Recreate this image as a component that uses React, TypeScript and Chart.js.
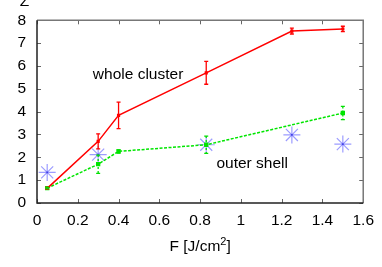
import React, { useEffect, useRef } from "react";
import { Chart, registerables } from "chart.js";

Chart.register(...registerables);

const wholeX = [0.05, 0.3, 0.4, 0.83, 1.25, 1.5];
const wholeY = [0.64, 2.7, 3.84, 5.7, 7.53, 7.62];
const wholeErr = [0.04, 0.33, 0.58, 0.5, 0.13, 0.12];

const shellX = [0.05, 0.3, 0.4, 0.83, 1.5];
const shellY = [0.65, 1.7, 2.26, 2.55, 3.94];
const shellErr = [0.03, 0.4, 0.07, 0.38, 0.29];

const starX = [0.05, 0.3, 0.83, 1.25, 1.5];
const starY = [1.34, 2.12, 2.55, 2.98, 2.58];

const xTicks = [0, 0.2, 0.4, 0.6, 0.8, 1, 1.2, 1.4, 1.6];
const yTicks = [0, 1, 2, 3, 4, 5, 6, 7, 8];

const FONT = "'Liberation Sans', Arial, sans-serif";

const pts = (xs: number[], ys: number[]) => xs.map((x, i) => ({ x, y: ys[i] }));

const overlay = {
  id: "overlay",
  afterDatasetsDraw(chart: any) {
    const { ctx, chartArea: a, scales } = chart;
    const xs = scales.x;
    const ys = scales.y;
    ctx.save();
    // error bars
    const bars = (xv: number[], yv: number[], ev: number[], color: string, dash: number[]) => {
      ctx.strokeStyle = color;
      ctx.lineWidth = 1.3;
      ctx.setLineDash(dash);
      xv.forEach((x, i) => {
        const px = xs.getPixelForValue(x);
        const t = ys.getPixelForValue(yv[i] + ev[i]);
        const b = ys.getPixelForValue(yv[i] - ev[i]);
        ctx.beginPath();
        ctx.moveTo(px, t);
        ctx.lineTo(px, b);
        ctx.stroke();
        ctx.setLineDash([]);
        ctx.beginPath();
        ctx.moveTo(px - 2, t);
        ctx.lineTo(px + 2, t);
        ctx.moveTo(px - 2, b);
        ctx.lineTo(px + 2, b);
        ctx.stroke();
        ctx.setLineDash(dash);
      });
      ctx.setLineDash([]);
    };
    bars(wholeX, wholeY, wholeErr, "#ff0000", []);
    bars(shellX, shellY, shellErr, "#00e000", [2, 2]);

    // inward ticks
    ctx.strokeStyle = "#666";
    ctx.lineWidth = 1;
    const L = 4;
    xTicks.forEach((v) => {
      const px = Math.round(xs.getPixelForValue(v)) + 0.5;
      ctx.beginPath();
      ctx.moveTo(px, a.bottom);
      ctx.lineTo(px, a.bottom - L);
      ctx.moveTo(px, a.top);
      ctx.lineTo(px, a.top + L);
      ctx.stroke();
    });
    yTicks.forEach((v) => {
      const py = Math.round(ys.getPixelForValue(v)) + 0.5;
      ctx.beginPath();
      ctx.moveTo(a.left, py);
      ctx.lineTo(a.left + L, py);
      ctx.moveTo(a.right, py);
      ctx.lineTo(a.right - L, py);
      ctx.stroke();
    });
    // frame
    ctx.lineWidth = 1.5;
    ctx.strokeStyle = "#777";
    ctx.beginPath();
    ctx.moveTo(a.left, a.top);
    ctx.lineTo(a.right, a.top);
    ctx.lineTo(a.right, a.bottom);
    ctx.stroke();
    ctx.strokeStyle = "#222";
    ctx.beginPath();
    ctx.moveTo(a.left, a.top);
    ctx.lineTo(a.left, a.bottom);
    ctx.lineTo(a.right, a.bottom);
    ctx.stroke();

    // labels
    ctx.fillStyle = "#000";
    ctx.font = `15.5px ${FONT}`;
    ctx.textBaseline = "middle";
    ctx.textAlign = "left";
    ctx.fillText("whole cluster", xs.getPixelForValue(0.274), ys.getPixelForValue(5.6));
    ctx.fillText("outer shell", xs.getPixelForValue(0.88), ys.getPixelForValue(1.74));

    // x axis title with superscript
    ctx.textBaseline = "alphabetic";
    const main1 = "F [J/cm";
    const sup = "2";
    const main2 = "]";
    ctx.font = `15.5px ${FONT}`;
    const w1 = ctx.measureText(main1).width;
    const w3 = ctx.measureText(main2).width;
    ctx.font = `11px ${FONT}`;
    const w2 = ctx.measureText(sup).width;
    const total = w1 + w2 + w3;
    const cx = (a.left + a.right) / 2;
    let x0 = cx - total / 2;
    const base = 251;
    ctx.font = `15.5px ${FONT}`;
    ctx.fillText(main1, x0, base);
    ctx.font = `11px ${FONT}`;
    ctx.fillText(sup, x0 + w1, base - 6);
    ctx.font = `15.5px ${FONT}`;
    ctx.fillText(main2, x0 + w1 + w2, base);

    // clipped y label at top
    ctx.textAlign = "center";
    ctx.fillText("Z", 24.5, 6);
    ctx.restore();
  },
};

export default function App() {
  const ref = useRef<HTMLCanvasElement>(null);
  useEffect(() => {
    document.body.style.margin = "0";
    const chart = new Chart(ref.current!, {
      type: "scatter",
      data: {
        datasets: [
          {
            data: pts(wholeX, wholeY),
            showLine: true,
            borderColor: "#ff0000",
            backgroundColor: "#ff0000",
            borderWidth: 1.5,
            pointRadius: 1.2,
            pointStyle: "rect",
          },
          {
            data: pts(shellX, shellY),
            showLine: true,
            borderColor: "#00e600",
            backgroundColor: "#00e600",
            borderWidth: 1.5,
            borderDash: [3, 1.5],
            pointRadius: 2,
            pointStyle: "rect",
          },
          {
            data: pts(starX, starY),
            showLine: false,
            borderColor: "rgba(90,90,255,0.6)",
            backgroundColor: "rgba(90,90,255,0.6)",
            borderWidth: 1.2,
            pointRadius: 8.5,
            pointStyle: "star",
          },
          {
            data: pts(starX, starY),
            showLine: false,
            borderColor: "#2020c0",
            backgroundColor: "#2020c0",
            borderWidth: 0,
            pointRadius: 1.3,
            pointStyle: "rect",
          },
        ],
      },
      options: {
        responsive: false,
        animation: false,
        events: [],
        layout: { padding: { left: 0, top: 19, right: 16, bottom: 0 } },
        plugins: { legend: { display: false }, tooltip: { enabled: false } },
        scales: {
          x: {
            type: "linear",
            min: 0,
            max: 1.6,
            afterFit: (s: any) => {
              s.height = 64;
            },
            afterBuildTicks: (s: any) => {
              s.ticks = xTicks.map((v) => ({ value: v }));
            },
            grid: { display: false, drawTicks: false },
            border: { display: false },
            ticks: {
              padding: 8,
              color: "#000",
              font: { family: FONT, size: 15.5 },
              maxRotation: 0,
              callback: (v: any) => String(Math.round(Number(v) * 10) / 10),
            },
          },
          y: {
            type: "linear",
            min: 0,
            max: 8,
            afterFit: (s: any) => {
              s.width = 37;
            },
            afterBuildTicks: (s: any) => {
              s.ticks = yTicks.map((v) => ({ value: v }));
            },
            grid: { display: false, drawTicks: false },
            border: { display: false },
            ticks: {
              padding: 11,
              color: "#000",
              font: { family: FONT, size: 15.5 },
              callback: (v: any) => String(v),
            },
          },
        },
      },
      plugins: [overlay],
    });
    return () => chart.destroy();
  }, []);
  return (
    <div style={{ width: 382, height: 267 }}>
      <canvas ref={ref} width={382} height={267} style={{ display: "block" }} />
    </div>
  );
}
